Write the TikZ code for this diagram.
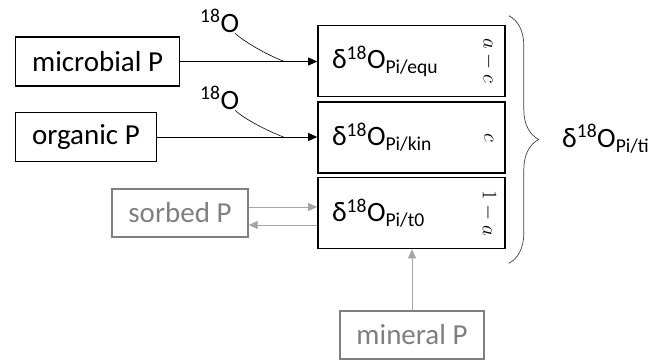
\documentclass[tikz,border=0pt]{standalone}
\usepackage{fontspec}
\setmainfont{Carlito}
\usepackage{tikz}
\usetikzlibrary{calc,arrows.meta,positioning,decorations.pathreplacing}
\definecolor{pgray}{RGB}{127,127,127}
\definecolor{agray}{RGB}{165,165,165}
\newcommand{\diso}[1]{δ\textsuperscript{18}O\textsubscript{#1}}
\tikzset{
    pool/.style={
    rectangle,draw=black,line width=1.2pt,inner xsep=16.5pt,minimum height=49pt,font=\fontsize{29}{35}\selectfont
    },
    gpool/.style={
    rectangle,draw=pgray,text=pgray,line width=1.2pt,inner xsep=16.5pt,minimum height=48pt,font=\fontsize{29}{35}\selectfont
    },
    delta/.style={
    rectangle,draw=black,line width=1.6pt,inner xsep=14pt,text width=159pt,align=left,minimum height=71pt,font=\fontsize{28}{34}\selectfont
    },
    share/.style={
    rotate=-90,inner sep=0pt,font=\fontsize{20}{24}\selectfont
    },
    iso/.style={
    inner sep=1pt,font=\fontsize{28}{34}\selectfont
    },
    flow/.style={
    draw=black,line width=0.8pt,-{Triangle[length=9pt,width=8pt]}
    },
    gflow/.style={
    draw=agray,line width=0.8pt,-{Triangle[length=9pt,width=8pt]}
    },
    brc/.style={
    decorate,decoration={brace,amplitude=30pt},draw=darkgray,line width=0.7pt
    },
}
\begin{document}
\begin{tikzpicture}[x=1pt,y=-1pt]
   \useasboundingbox (0,0) rectangle (654,360);
   \node[pool,anchor=west] (mic) at (15,61.5) {microbial P};
   \node[pool,anchor=west] (org) at (15,137) {organic P};
   \node[gpool] (sor) at (180,213) {sorbed P};
   \node[delta] (equ) at (411.5,61) {\diso{Pi/equ}};
   \node[delta] (kin) at (411.5,137.5) {\diso{Pi/kin}};
   \node[delta] (tz) at (411.5,213) {\diso{Pi/t0}};
   \node[gpool] (min) at (412,335) {mineral P};
   \node[share] (fa) at ([xshift=-17pt]equ.east) {$a-c$};
   \node[share] (fb) at ([xshift=-17pt]kin.east) {$c$};
   \node[share] (fc) at ([xshift=-17pt]tz.east) {$1-a$};
   \node[iso,anchor=base west] (o1) at (199,32) {\textsuperscript{18}O};
   \node[iso,anchor=base west] (o2) at (199,109) {\textsuperscript{18}O};
   \node[iso,inner sep=0pt,anchor=base west] (ti) at (562,147) {\diso{Pi/ti}};
   \coordinate (j1) at ($(mic.east)!0.76!(mic.east -| equ.west)$);
   \coordinate (j2) at ($(org.east)!0.79!(org.east -| kin.west)$);

   \draw[flow] (mic.east) -- (mic.east -| equ.west);
   \draw[flow] (org.east) -- (org.east -| kin.west);
   \draw[line width=0.6pt] ([xshift=-5pt]o1.south east) .. controls +(8,8) and +(-16,-6) .. (j1);
   \draw[line width=0.6pt] ([xshift=-5pt]o2.south east) .. controls +(8,8) and +(-16,-6) .. (j2);
   \draw[gflow] ([yshift=6pt]sor.east) -- ([yshift=6pt]tz.west);
   \draw[gflow] ([yshift=-12pt]tz.west) -- ([yshift=-12pt]sor.east);
   \draw[gflow] (min.north) -- (min.north |- tz.south);
   \draw[brc] ([xshift=3pt,yshift=9pt]equ.north east) -- ([xshift=3pt,yshift=-14pt]tz.south east);
\end{tikzpicture}
\end{document}
